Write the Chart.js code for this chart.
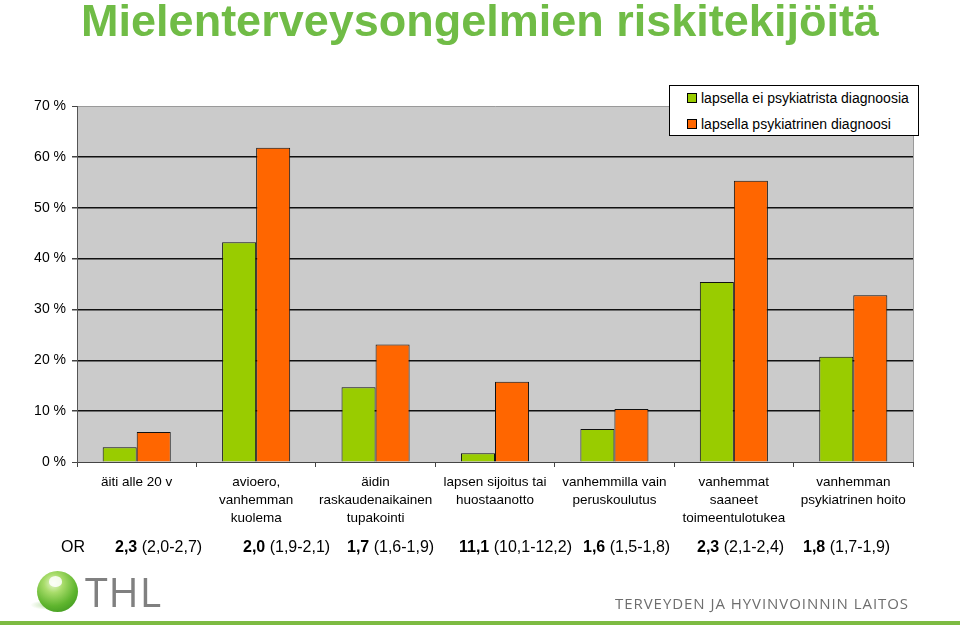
<!DOCTYPE html>
<html>
<head>
<meta charset="utf-8">
<script src="https://cdn.jsdelivr.net/npm/chart.js@4/dist/chart.umd.min.js"></script>
<style>
  html, body { margin: 0; padding: 0; background: #fff; }
  #wrap { position: relative; width: 960px; height: 625px; overflow: hidden; font-family: "Liberation Sans", Arial, sans-serif; }
  #chart { position: absolute; left: 0; top: 0; }
  #title { position: absolute; left: 0; top: -5px; width: 960px; text-align: center; color: #70bc46; font-weight: bold; font-size: 45px; white-space: nowrap; }
  #legend { position: absolute; left: 669px; top: 85px; width: 250px; height: 51px; background: #fff; border: 1px solid #000; box-sizing: border-box; font-size: 14px; color: #000; }
  #legend .item { position: absolute; left: 17px; white-space: nowrap; line-height: 16px; }
  #legend .sw { display: inline-block; width: 8px; height: 8px; border: 1px solid #000; margin-right: 4px; vertical-align: 0px; }
  #orrow { position: absolute; left: 0; top: 538px; width: 960px; height: 22px; font-size: 16px; color: #000; }
  #orrow span { position: absolute; white-space: nowrap; }
  #logoSphere { position: absolute; left: 37px; top: 571px; width: 41px; height: 41px; border-radius: 50%;
    background: radial-gradient(circle at 40% 30%, #e8f7d0 0%, #a8dc6a 25%, #5fb52e 60%, #2f8a1a 100%); }
  #logoShadow { position: absolute; left: 30px; top: 600px; width: 40px; height: 10px; border-radius: 50%;
    background: radial-gradient(ellipse at center, rgba(120,190,80,0.55) 0%, rgba(160,210,120,0.0) 70%); }
  #leaf { position: absolute; left: 49px; top: 576px; width: 13px; height: 11px; border-radius: 50% 50% 45% 45%; background: rgba(255,255,255,0.85); }
  #thl { position: absolute; left: 85px; top: 563px; font-family: "Open Sans", sans-serif; font-size: 41px; color: #808080; letter-spacing: 1px; }
  #laitos { position: absolute; left: 615px; top: 593px; font-family: "Open Sans", sans-serif; font-size: 15px; letter-spacing: 0.95px; color: #6e6e6e; white-space: nowrap; }
  #greenline { position: absolute; left: 0; top: 621px; width: 960px; height: 4px; background: #7dbb42; }
</style>
</head>
<body>
<div id="wrap">
  <canvas id="chart" width="960" height="625"></canvas>
  <div id="title">Mielenterveysongelmien riskitekijöitä</div>
  <div id="legend"></div>
  <div id="orrow"></div>
  <div id="logoShadow"></div>
  <div id="logoSphere"></div>
  <div id="leaf"></div>
  <div id="thl">THL</div>
  <div id="laitos">TERVEYDEN JA HYVINVOINNIN LAITOS</div>
  <div id="greenline"></div>
</div>
<script>
// ---- Data ----
const categories = [
  ["äiti alle 20 v"],
  ["avioero,", "vanhemman", "kuolema"],
  ["äidin", "raskaudenaikainen", "tupakointi"],
  ["lapsen sijoitus tai", "huostaanotto"],
  ["vanhemmilla vain", "peruskoulutus"],
  ["vanhemmat", "saaneet", "toimeentulotukea"],
  ["vanhemman", "psykiatrinen hoito"]
];
const seriesNames = ["lapsella ei psykiatrista diagnoosia", "lapsella psykiatrinen diagnoosi"];
const noDiagnosis = [2.9, 43.2, 14.7, 1.7, 6.5, 35.4, 20.7];
const withDiagnosis = [5.9, 61.8, 23.1, 15.8, 10.4, 55.3, 32.8];
const orValues = ["2,3", "2,0", "1,7", "11,1", "1,6", "2,3", "1,8"];
const orIntervals = ["(2,0-2,7)", "(1,9-2,1)", "(1,6-1,9)", "(10,1-12,2)", "(1,5-1,8)", "(2,1-2,4)", "(1,7-1,9)"];
const yTicks = [0, 10, 20, 30, 40, 50, 60, 70];

const colors = ["#99cc00", "#ff6600"];

// ---- Legend (HTML) ----
const legend = document.getElementById('legend');
seriesNames.forEach((n, i) => {
  const d = document.createElement('div');
  d.className = 'item';
  d.style.top = (i === 0 ? 4 : 30) + 'px';
  d.innerHTML = '<span class="sw" style="background:' + colors[i] + '"></span>' + n;
  legend.appendChild(d);
});

// ---- OR row ----
const orRow = document.getElementById('orrow');
const orLeft = [115, 243, 347, 459, 583, 697, 803];
const orLabel = document.createElement('span');
orLabel.style.left = '61px';
orLabel.textContent = 'OR';
orRow.appendChild(orLabel);
orValues.forEach((v, i) => {
  const s = document.createElement('span');
  s.style.left = orLeft[i] + 'px';
  s.innerHTML = '<b>' + v + '</b> ' + orIntervals[i];
  orRow.appendChild(s);
});

// ---- Plot background plugin ----
const bgPlugin = {
  id: 'bg',
  beforeDraw(chart) {
    const { ctx, chartArea: a } = chart;
    ctx.save();
    ctx.fillStyle = '#cbcbcb';
    ctx.fillRect(a.left, a.top, a.right - a.left, a.bottom - a.top);
    ctx.restore();
  },
  afterDatasetsDraw(chart) {
    const { ctx, chartArea: a } = chart;
    ctx.save();
    ctx.strokeStyle = '#9a9a9a';
    ctx.lineWidth = 1;
    ctx.beginPath();
    ctx.moveTo(a.right + 0.5, a.top);
    ctx.lineTo(a.right + 0.5, a.bottom);
    ctx.stroke();
    ctx.restore();
  }
};

new Chart(document.getElementById('chart'), {
  type: 'bar',
  data: {
    labels: categories,
    datasets: [
      { label: seriesNames[0], data: noDiagnosis, backgroundColor: colors[0], borderColor: '#111', borderWidth: 1, categoryPercentage: 0.57, barPercentage: 1.0 },
      { label: seriesNames[1], data: withDiagnosis, backgroundColor: colors[1], borderColor: '#111', borderWidth: 1, categoryPercentage: 0.57, barPercentage: 1.0 }
    ]
  },
  options: {
    responsive: false,
    animation: false,
    events: [],
    layout: { padding: { top: 106, right: 47, left: 0, bottom: 0 } },
    plugins: { legend: { display: false }, tooltip: { enabled: false } },
    scales: {
      x: {
        afterFit(scale) { scale.height = 163; },
        grid: { offset: true, drawOnChartArea: false, tickLength: 5, tickColor: '#444', lineWidth: 1 },
        border: { display: true, color: '#444', width: 1 },
        ticks: { color: '#000', padding: 7, maxRotation: 0, autoSkip: false, font: { family: '"Liberation Sans", Arial, sans-serif', size: 13.5, lineHeight: 1.3 } }
      },
      y: {
        min: 0, max: 70,
        afterFit(scale) { scale.width = 77; },
        afterBuildTicks(scale) { scale.ticks = yTicks.map(v => ({ value: v })); },
        grid: {
          tickLength: 5,
          tickColor: '#444',
          lineWidth: (c) => (c.tick && (c.tick.value === 70 || c.tick.value === 0)) ? 1 : 1.5,
          color: (c) => (c.tick && c.tick.value === 70) ? '#9a9a9a' : (c.tick && c.tick.value === 0 ? '#444' : '#111')
        },
        border: { display: true, color: '#555', width: 1 },
        ticks: { color: '#000', padding: 6, callback: (v) => v + ' %', font: { family: '"Liberation Sans", Arial, sans-serif', size: 14 } }
      }
    }
  },
  plugins: [bgPlugin]
});
</script>
</body>
</html>
